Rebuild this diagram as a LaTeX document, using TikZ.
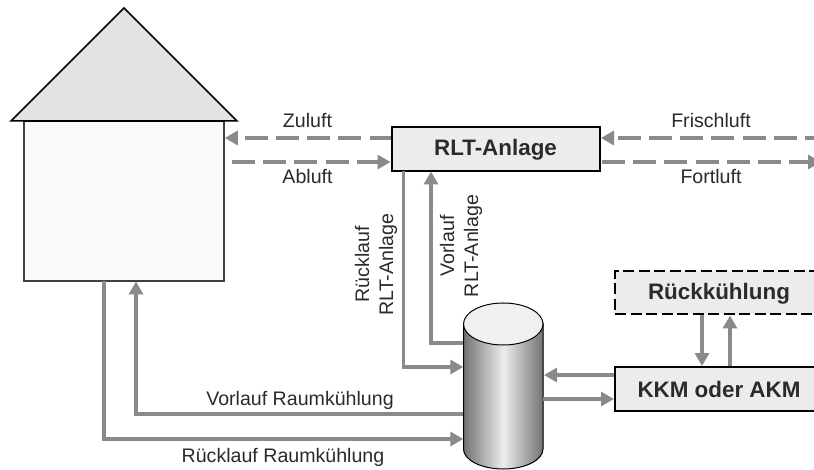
\documentclass[tikz,border=0pt]{standalone}
\usepackage{fontspec}
\setmainfont{Liberation Sans}
\usetikzlibrary{arrows.meta}
\definecolor{txt}{HTML}{2B2B2B}
\definecolor{pipe}{HTML}{8A8A8A}
\definecolor{boxfill}{HTML}{ECECEC}
\tikzset{
  x=1pt,y=-1pt,
  pipeline/.style={draw=pipe,line width=3.2pt,line join=miter},
  arr/.style={pipeline,-{Triangle[length=13pt,width=14pt]}},
  airdash/.style={arr,dash pattern=on 23pt off 8.2pt},
  lab/.style={font=\fontsize{19.6}{24}\selectfont,text=txt,inner sep=0pt,align=center},
  boxlab/.style={font=\bfseries\fontsize{22.4}{26}\selectfont,text=txt,inner sep=0pt},
  unit/.style={draw=black,line width=2pt,fill=boxfill},
}
\begin{document}
\begin{tikzpicture}
\clip (0,0) rectangle (814,470);
\fill[white] (0,0) rectangle (814,470);
% house
\node[draw=black!75,line width=1.5pt,fill=black!2,minimum width=200pt,minimum height=160pt,inner sep=0pt] (body) at (124,201) {};
\draw[black,line width=1.5pt,line join=miter,fill=black!11] (124,8) -- (237,121) -- (11,121) -- cycle;
\draw[black,line width=2pt] (24,121) -- (224,121);
% units
\node[unit,minimum width=208.5pt,minimum height=44pt,inner sep=0pt] (rlt) at (495.75,149) {};
\node[boxlab] (rltlab) at (495.5,150) {RLT-Anlage};
\node[unit,minimum width=205pt,minimum height=44pt,inner sep=0pt] (kkm) at (717.5,389) {};
\node[boxlab] (kkmlab) at (719,389) {KKM oder AKM};
\node[unit,dash pattern=on 11pt off 4.5pt,minimum width=205pt,minimum height=43pt,inner sep=0pt] (rk) at (717.5,293) {};
\node[boxlab] (rklab) at (719,294) {Rückkühlung};
% tank
\node[minimum width=79.5pt,minimum height=166pt,inner sep=0pt] (tank) at (503.25,386) {};
\fill[left color=black!55,right color=black!55,middle color=black!7] (463.5,323) -- (463.5,449) arc[start angle=180,end angle=360,x radius=39.75,y radius=-20] -- (543,323) -- cycle;
\draw[black,line width=1pt] (463.5,323) -- (463.5,449) arc[start angle=180,end angle=360,x radius=39.75,y radius=-20] -- (543,323);
\draw[black,line width=1pt,fill=black!6] (503.25,324) ellipse[x radius=39.75,y radius=21];
% air
\coordinate (airout) at (821,162);
\coordinate (airin) at (814,138);
\draw[airdash,dash phase=2pt] (rlt.west |- 0,138) -- (body.east |- 0,138);
\draw[airdash] (232,162) -- (rlt.west |- 0,162);
\draw[airdash,dash phase=14pt] (airin) -- (rlt.east |- 0,138);
\draw[airdash] (602,162) -- (airout);
% water
\draw[arr] (403.5,171) -- (403.5,367) -- (tank.west |- 0,367);
\draw[arr] (tank.west |- 0,343) -- (431,343) -- (431,171.5);
\draw[arr] (tank.west |- 0,414) -- (136,414) -- (136,281.5);
\draw[arr] (104,281) -- (104,439) -- (tank.west |- 0,439);
\draw[arr] (kkm.west |- 0,375) -- (544,375);
\draw[arr] (543,399) -- (kkm.west |- 0,399);
\draw[arr] (rk.south -| 702,0) -- (kkm.north -| 702,0);
\draw[arr] (kkm.north -| 730,0) -- (rk.south -| 730,0);
% labels
\node[lab] (zu) at (307.5,120) {Zuluft};
\node[lab] (ab) at (307.5,176) {Abluft};
\node[lab] (fr) at (711,120) {Frischluft};
\node[lab] (fo) at (711,176) {Fortluft};
\node[lab] (vr) at (300,400) {Vorlauf Raumkühlung};
\node[lab] (rr) at (283,457) {Rücklauf Raumkühlung};
\node[lab,rotate=90] (r1) at (376,264.5) {Rücklauf\\RLT-Anlage};
\node[lab,rotate=90] (r2) at (461,246) {Vorlauf\\RLT-Anlage};
\end{tikzpicture}
\end{document}
